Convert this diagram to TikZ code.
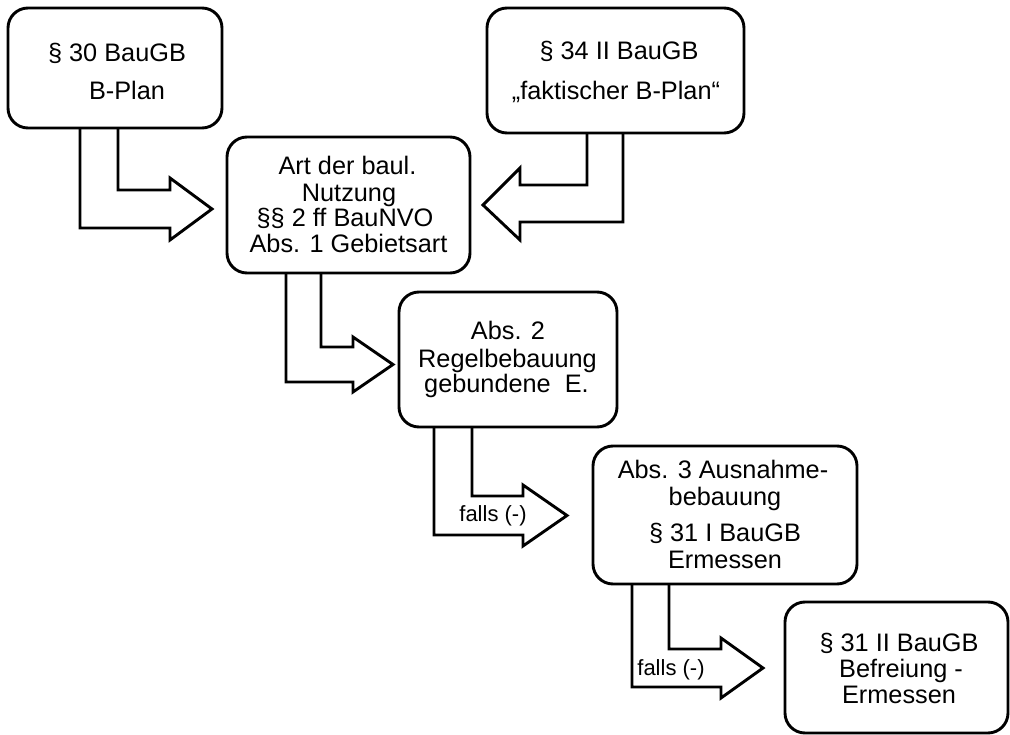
\documentclass[tikz,border=0pt]{standalone}
\usepackage{fontspec}
\setmainfont{Liberation Sans}
\begin{document}
\begin{tikzpicture}[x=1pt,y=-1pt,
  box/.style={draw, line width=2.9pt, rounded corners=20pt, inner sep=0pt, outer sep=0pt},
  txt/.style={font=\fontsize{25.3}{27}\selectfont, inner sep=0pt, anchor=base},
  small/.style={font=\fontsize{22}{24}\selectfont, inner sep=0pt, anchor=base},
  barrow/.style={draw, line width=2.9pt, line join=miter}]
\useasboundingbox (0,0) rectangle (1010,735);
% boxes
\node[box, minimum width=214pt, minimum height=120pt] (b1) at (115,68) {};
\node[box, minimum width=257pt, minimum height=125pt] (b2) at (615.5,70.5) {};
\node[box, minimum width=243pt, minimum height=136pt] (b3) at (348.5,205) {};
\node[box, minimum width=218pt, minimum height=135pt] (b4) at (508,359.5) {};
\node[box, minimum width=264pt, minimum height=138pt] (b5) at (725,515) {};
\node[box, minimum width=223pt, minimum height=131pt] (b6) at (896.5,667.5) {};
% texts
\node[txt] (t1a) at (117,62) {§ 30 BauGB};
\node[txt] (t1b) at (127,100) {B-Plan};
\node[txt] (t2a) at (619,60) {§ 34 II BauGB};
\node[txt] (t2b) at (616,100) {„faktischer B-Plan“};
\node[txt] (t3a) at (347.5,175) {Art der baul.};
\node[txt] (t3b) at (349,201.5) {Nutzung};
\node[txt] (t3c) at (345,226.5) {§§ 2 ff BauNVO};
\node[txt] (t3d) at (348.5,253) {Abs. 1 Gebietsart};
\node[txt] (t4a) at (508,340) {Abs. 2};
\node[txt] (t4b) at (507.5,368) {Regelbebauung};
\node[txt] (t4c) at (506.5,393) {gebundene\ \ E.};
\node[txt] (t5a) at (723,478) {Abs. 3 Ausnahme-};
\node[txt] (t5b) at (725,505) {bebauung};
\node[txt] (t5c) at (725,541.5) {§ 31 I BauGB};
\node[txt] (t5d) at (725,568) {Ermessen};
\node[txt] (t6a) at (899,651.5) {§ 31 II BauGB};
\node[txt] (t6b) at (901,677) {Befreiung -};
\node[txt] (t6c) at (899,703) {Ermessen};
% bent block arrows
\draw[barrow] ([xshift=72pt]b1.south west) -- (80,228) -- (170,228) -- (170,240)
  -- (212,209) -- (170,178) -- (170,190) -- (118,190) -- ([xshift=110pt]b1.south west);
\draw[barrow] ([xshift=136pt]b2.south west) -- (623,222) -- (520,222) -- (520,240)
  -- (483,205) -- (520,168) -- (520,185) -- (587,185) -- ([xshift=100pt]b2.south west);
\draw[barrow] ([xshift=59pt]b3.south west) -- (286,382) -- (353,382) -- (353,392)
  -- (393,364.5) -- (353,337) -- (353,347) -- (321,347) -- ([xshift=94pt]b3.south west);
\draw[barrow] ([xshift=35pt]b4.south west) -- (434,535) -- (523,535) -- (523,546)
  -- (567,515.5) -- (523,485) -- (523,496) -- (472,496) -- ([xshift=73pt]b4.south west);
\draw[barrow] ([xshift=39pt]b5.south west) -- (632,687) -- (721,687) -- (721,698)
  -- (763,668) -- (721,638) -- (721,649) -- (669,649) -- ([xshift=76pt]b5.south west);
\node[small] (f1) at (493,521.5) {falls (-)};
\node[small] (f2) at (671,675) {falls (-)};
\end{tikzpicture}
\end{document}
